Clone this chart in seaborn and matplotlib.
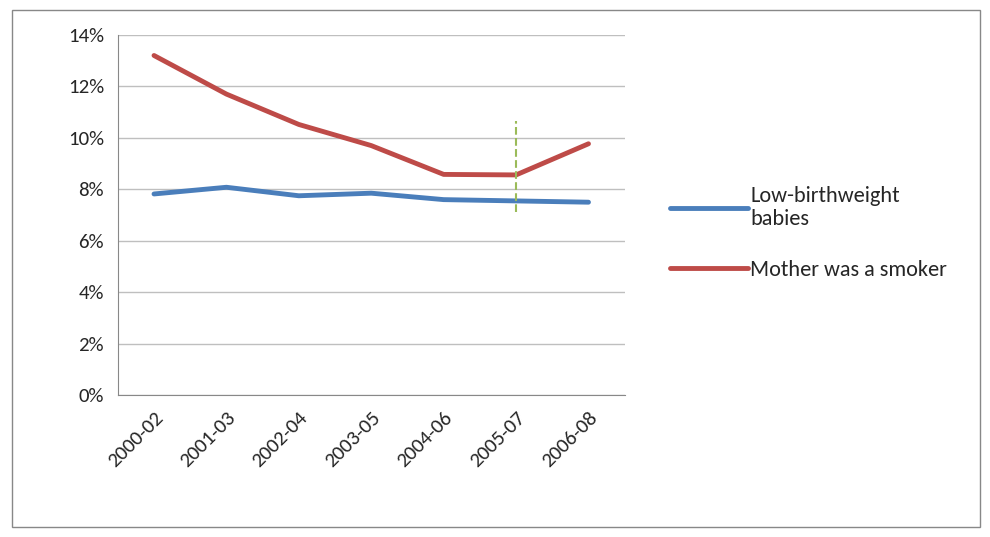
import matplotlib
matplotlib.use('Agg')
import matplotlib.pyplot as plt
import seaborn as sns
import pandas as pd
from matplotlib.patches import Rectangle

periods = ["2000-02", "2001-03", "2002-04", "2003-05", "2004-06", "2005-07", "2006-08"]
low_birthweight = [7.82, 8.08, 7.75, 7.85, 7.6, 7.55, 7.5]
mother_smoker = [13.2, 11.7, 10.52, 9.7, 8.58, 8.56, 9.77]

df = pd.DataFrame({"period": periods * 2,
                   "value": low_birthweight + mother_smoker,
                   "series": ["Low-birthweight\nbabies"] * 7 + ["Mother was a smoker"] * 7})

sns.set_style("white")
plt.rcParams['font.family'] = ['Carlito', 'Liberation Sans', 'DejaVu Sans']

fig = plt.figure(figsize=(9.9, 5.37), dpi=100)
ax = fig.add_axes([0.119, 0.264, 0.512, 0.671])
sns.lineplot(data=df, x="period", y="value", hue="series", sort=False,
             palette=["#4a7ebb", "#be4b48"], linewidth=3.5, ax=ax)

ax.plot([5, 5], [7.1, 10.65], color="#9bbb59", linestyle="--", linewidth=1.5)

ax.set_xlim(-0.5, 6.5)
ax.set_ylim(0, 14)
ax.set_yticks(range(0, 15, 2))
ax.set_yticklabels([f"{v}%" for v in range(0, 15, 2)], fontsize=15)
ax.set_xticks(range(len(periods)))
ax.set_xticklabels(periods, rotation=45, ha="right", rotation_mode="anchor", fontsize=15)
ax.tick_params(axis='x', pad=6, length=4, color="#888888")
ax.tick_params(axis='y', pad=6, length=4, color="#888888")
ax.set_xlabel("")
ax.set_ylabel("")
ax.grid(axis='y', color="#bfbfbf", linewidth=1)
for s in ["top", "right"]:
    ax.spines[s].set_visible(False)
for s in ["left", "bottom"]:
    ax.spines[s].set_color("#888888")

ax.legend(loc="center left", bbox_to_anchor=(1.05, 0.45), frameon=False,
          fontsize=16, handlelength=3.5, handletextpad=0.1, labelspacing=1.4)

fig.add_artist(Rectangle((0.012, 0.018), 0.978, 0.963, transform=fig.transFigure,
                         fill=False, edgecolor="#888888", linewidth=1))

fig.savefig("out.png", dpi=100)
